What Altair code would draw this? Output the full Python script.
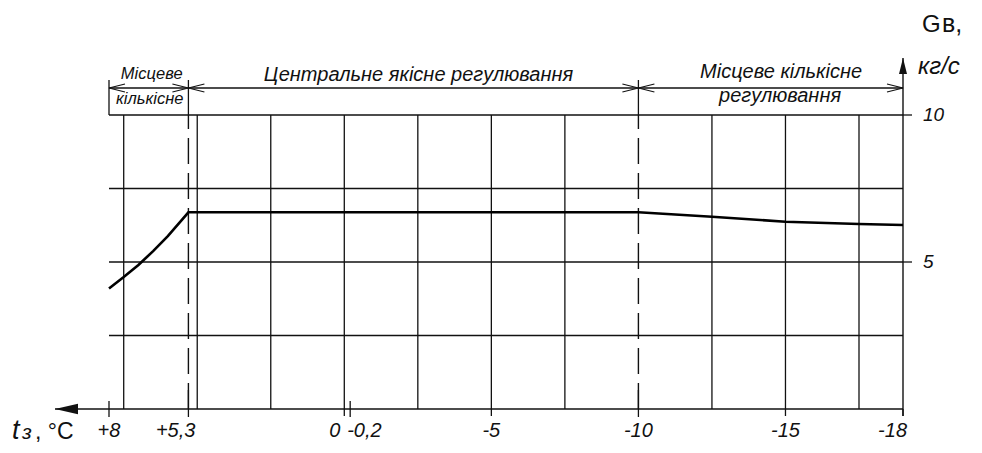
import altair as alt
import pandas as pd

# ---- data ----
t_curve = [8, 7.5, 7, 6.5, 6, 5.3, -10, -12.5, -15, -17.5, -18]
g_curve = [4.1, 4.49, 4.9, 5.37, 5.88, 6.69, 6.69, 6.54, 6.37, 6.29, 6.26]

grid_t = [7.5, 5, 2.5, 0, -2.5, -5, -7.5, -12.5, -15, -17.5]
grid_g = [10, 7.5, 5, 2.5]
long_grid_t = [0, -5, -15, -18]
short_ticks_t = [8, -0.2]
tall_ticks_t = [5.3, -10]
zone_bounds = [8, 5.3, -10, -18]

x_labels_center = ["+8", "-5", "-10", "-15"]
x_labels_center_t = [8, -5, -10, -15]
y_labels = ["10", "5"]
y_label_vals = [10, 5]

zone_top_texts = ["Місцеве", "Центральне якісне регулювання", "Місцеве кількісне"]
zone_bottom_texts = ["кількісне", "", "регулювання"]

FONT = "Liberation Sans"
INK = "#111111"

X = alt.Scale(domain=[8, -17.5, -18], range=[101, 851, 895], zero=False, nice=False)
Y = alt.Scale(domain=[0, 10], range=[401, 107], zero=False, nice=False)


def xq(f):
    return alt.X(f, type="quantitative", scale=X, axis=None)


def yq(f):
    return alt.Y(f, type="quantitative", scale=Y, axis=None)


df_h = pd.DataFrame({"g": grid_g, "t0": zone_bounds[0], "t1": zone_bounds[-1]})
hgrid = alt.Chart(df_h).mark_rule(color=INK, strokeWidth=1.3).encode(
    x=xq("t0"), x2="t1", y=yq("g"))

df_ytick = pd.DataFrame({"g": y_label_vals, "t": zone_bounds[-1]})
ytick = alt.Chart(df_ytick).mark_rule(color=INK, strokeWidth=1.3).encode(
    x=xq("t"), x2=alt.value(904), y=yq("g"))

df_v = pd.DataFrame({"t": grid_t, "g0": 0, "g1": grid_g[0]})
vgrid = alt.Chart(df_v).mark_rule(color=INK, strokeWidth=1.3).encode(
    x=xq("t"), y=yq("g0"), y2="g1")

df_long = pd.DataFrame({"t": long_grid_t})
vlong = alt.Chart(df_long).mark_rule(color=INK, strokeWidth=1.3).encode(
    x=xq("t"), y=alt.value(401), y2=alt.value(408))

df_st = pd.DataFrame({"t": short_ticks_t})
st = alt.Chart(df_st).mark_rule(color=INK, strokeWidth=1.3).encode(
    x=xq("t"), y=alt.value(393), y2=alt.value(409))

df_tt = pd.DataFrame({"t": tall_ticks_t, "g0": 0, "g1": grid_g[0]})
tt = alt.Chart(df_tt).mark_rule(color=INK, strokeWidth=1.3).encode(
    x=xq("t"), y=alt.value(382), y2=alt.value(409))
dashed = alt.Chart(df_tt).mark_rule(color=INK, strokeWidth=1.4, strokeDash=[26, 9]).encode(
    x=xq("t"), y=yq("g0"), y2="g1")

df_ext = pd.DataFrame({"t": zone_bounds[:-1]})
ext = alt.Chart(df_ext).mark_rule(color=INK, strokeWidth=1.3).encode(
    x=xq("t"), y=alt.value(72), y2=alt.value(107))

df_axes = pd.DataFrame({"t": [zone_bounds[-1]], "g": [0]})
xaxis = alt.Chart(df_axes).mark_rule(color=INK, strokeWidth=1.4).encode(
    x=xq("t"), x2=alt.value(47), y=yq("g"))
yaxis = alt.Chart(df_axes).mark_rule(color=INK, strokeWidth=1.4).encode(
    x=xq("t"), y=alt.value(50), y2=alt.value(408))
yarrow = alt.Chart(df_axes).mark_point(
    shape="M0,0L-0.5,2L0.5,2Z", size=256, filled=True, color=INK, opacity=1).encode(
    x=xq("t"), y=alt.value(50))
xarrow = alt.Chart(df_axes).mark_point(
    shape="M0,0L2,-0.45L2,0.45Z", size=529, filled=True, color=INK, opacity=1).encode(
    x=alt.value(47), y=yq("g"))

df_dim = pd.DataFrame({"t0": zone_bounds[:-1], "t1": zone_bounds[1:]})
dim = alt.Chart(df_dim).mark_rule(color=INK, strokeWidth=1.3).encode(
    x=xq("t0"), x2="t1", y=alt.value(80))
arr_l = alt.Chart(df_dim).mark_point(
    shape="M2,-0.5L0,0L2,0.5", size=256, filled=False, color=INK, opacity=1, strokeWidth=1.2).encode(
    x=xq("t0"), y=alt.value(80))
arr_r = alt.Chart(df_dim).mark_point(
    shape="M-2,-0.5L0,0L-2,0.5", size=256, filled=False, color=INK, opacity=1, strokeWidth=1.2).encode(
    x=xq("t1"), y=alt.value(80))

df_curve = pd.DataFrame({"t": t_curve, "g": g_curve})
curve = alt.Chart(df_curve).mark_line(color="black", strokeWidth=2.6).encode(
    x=xq("t"), y=yq("g"), order="order:Q"
).transform_window(order="row_number()")

TXT = dict(font=FONT, fontStyle="italic", color=INK)
XL = 20

df_xl = pd.DataFrame({"t": x_labels_center_t, "lab": x_labels_center})
xl = alt.Chart(df_xl).mark_text(fontSize=XL, align="center", baseline="alphabetic", **TXT).encode(
    x=xq("t"), y=alt.value(429), text="lab:N")
xl0 = alt.Chart(pd.DataFrame({"t": [0], "lab": ["0"]})).mark_text(
    fontSize=XL, align="right", baseline="alphabetic", dx=-4, **TXT).encode(
    x=xq("t"), y=alt.value(429), text="lab:N")
xl02 = alt.Chart(pd.DataFrame({"t": [-0.2], "lab": ["-0,2"]})).mark_text(
    fontSize=XL, align="left", baseline="alphabetic", dx=-3, **TXT).encode(
    x=xq("t"), y=alt.value(429), text="lab:N")
xl53 = alt.Chart(pd.DataFrame({"t": [5.3], "lab": ["+5,3"]})).mark_text(
    fontSize=XL, align="right", baseline="alphabetic", dx=7, **TXT).encode(
    x=xq("t"), y=alt.value(429), text="lab:N")
xl18 = alt.Chart(pd.DataFrame({"t": [-18], "lab": ["-18"]})).mark_text(
    fontSize=XL, align="right", baseline="alphabetic", dx=4, **TXT).encode(
    x=xq("t"), y=alt.value(429), text="lab:N")

df_yl = pd.DataFrame({"g": y_label_vals, "lab": y_labels})
yl = alt.Chart(df_yl).mark_text(fontSize=19, align="left", baseline="middle", **TXT).encode(
    x=alt.value(915), y=yq("g"), text="lab:N")

df_zone = pd.DataFrame({
    "tm": [(a + b) / 2 for a, b in zip(zone_bounds[:-1], zone_bounds[1:])],
    "top": zone_top_texts,
    "bottom": zone_bottom_texts,
})
z_small_top = alt.Chart(df_zone.iloc[[0]]).mark_text(
    fontSize=16.5, align="center", baseline="alphabetic", dx=3, **TXT).encode(
    x=xq("tm"), y=alt.value(71), text="top:N")
z_small_bot = alt.Chart(df_zone.iloc[[0]]).mark_text(
    fontSize=16.5, align="center", baseline="alphabetic", dx=1, **TXT).encode(
    x=xq("tm"), y=alt.value(96), text="bottom:N")
z_mid = alt.Chart(df_zone.iloc[[1]]).mark_text(
    fontSize=20, align="center", baseline="alphabetic", dx=5, **TXT).encode(
    x=xq("tm"), y=alt.value(73), text="top:N")
z_r_top = alt.Chart(df_zone.iloc[[2]]).mark_text(
    fontSize=20, align="center", baseline="alphabetic", dx=25, **TXT).encode(
    x=xq("tm"), y=alt.value(70), text="top:N")
z_r_bot = alt.Chart(df_zone.iloc[[2]]).mark_text(
    fontSize=20, align="center", baseline="alphabetic", dx=24, **TXT).encode(
    x=xq("tm"), y=alt.value(94), text="bottom:N")

df_titles = pd.DataFrame({"g": ["G"], "gv": ["в,"], "u": ["кг/с"], "t": ["t"], "z": ["з"], "c": [", °C"]})
UP = dict(font=FONT, align="left", baseline="alphabetic", color=INK)
g1 = alt.Chart(df_titles).mark_text(fontSize=24, **UP).encode(
    x=alt.value(914), y=alt.value(24), text="g:N")
g2 = alt.Chart(df_titles).mark_text(fontSize=25, **UP).encode(
    x=alt.value(934), y=alt.value(24), text="gv:N")
u_title = alt.Chart(df_titles).mark_text(
    fontSize=24, align="left", baseline="alphabetic", **TXT).encode(
    x=alt.value(910), y=alt.value(66), text="u:N")
t1 = alt.Chart(df_titles).mark_text(
    fontSize=27, align="left", baseline="alphabetic", **TXT).encode(
    x=alt.value(4), y=alt.value(431), text="t:N")
t2 = alt.Chart(df_titles).mark_text(
    fontSize=21, align="left", baseline="alphabetic", **TXT).encode(
    x=alt.value(14), y=alt.value(431), text="z:N")
t3 = alt.Chart(df_titles).mark_text(fontSize=23, **UP).encode(
    x=alt.value(27), y=alt.value(431), text="c:N")

chart = alt.layer(
    hgrid, ytick, vgrid, vlong, st, tt, dashed, ext, xaxis, yaxis, yarrow, xarrow,
    dim, arr_l, arr_r, curve,
    xl, xl0, xl02, xl53, xl18, yl,
    z_small_top, z_small_bot, z_mid, z_r_top, z_r_bot,
    g1, g2, u_title, t1, t2, t3,
).properties(
    width=966, height=437,
    autosize=alt.AutoSizeParams(type="none"),
    padding=0,
).configure(background="white").configure_view(stroke=None, strokeWidth=0)

chart.save("out.html", embed_options={"renderer": "svg", "actions": False})
